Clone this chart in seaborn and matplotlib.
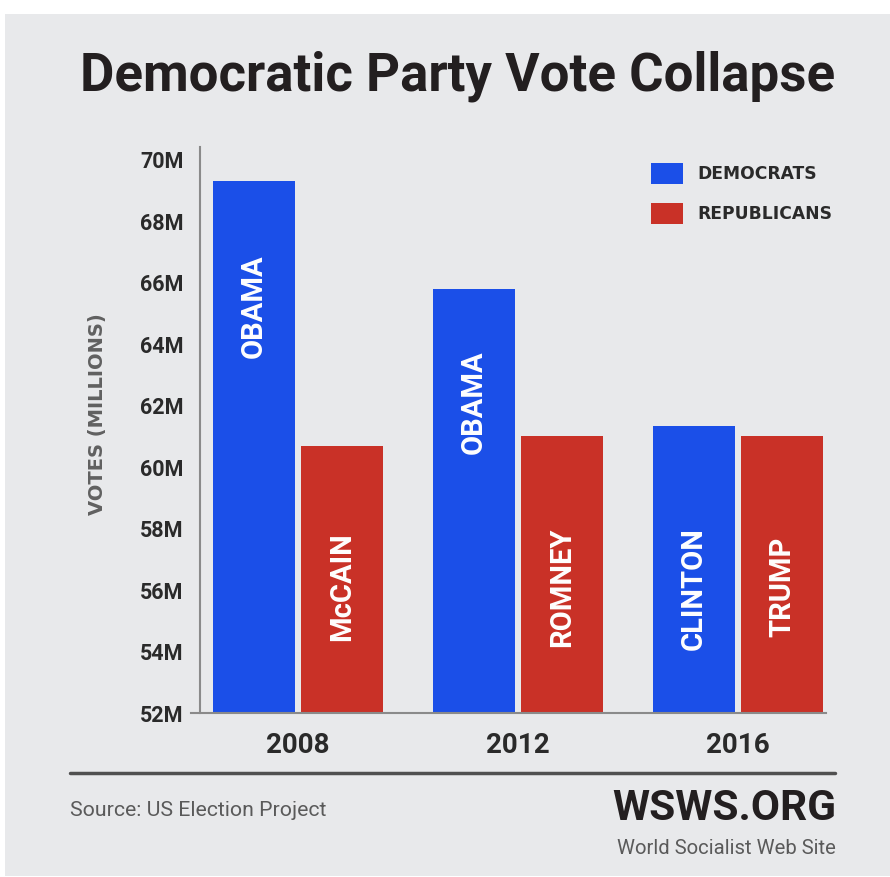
import matplotlib
matplotlib.use("Agg")
import matplotlib.pyplot as plt
from matplotlib import font_manager
from matplotlib.patches import Rectangle
from matplotlib.lines import Line2D
import seaborn as sns
import pandas as pd

# ---- data ----
years = ["2008", "2012", "2016"]
parties = ["DEMOCRATS", "REPUBLICANS"]
dem_votes = [69.3, 65.8, 61.35]
rep_votes = [60.7, 61.0, 61.0]
dem_names = ["OBAMA", "OBAMA", "CLINTON"]
rep_names = ["McCAIN", "ROMNEY", "TRUMP"]
ytick_vals = [52, 54, 56, 58, 60, 62, 64, 66, 68, 70]
ytick_labels = [f"{v}M" for v in ytick_vals]

df = pd.DataFrame({
    "year": years * 2,
    "party": [parties[0]] * 3 + [parties[1]] * 3,
    "votes": dem_votes + rep_votes,
    "name": dem_names + rep_names,
})

BLUE = "#1b4fe8"
RED = "#c93127"
BG = "#e8e9eb"
DARK = "#2a2a2a"
GREY = "#5a5a5a"

sns.set_theme(style="white")
plt.rcParams["font.family"] = ["Roboto", "DejaVu Sans"]

W, H = 890, 877
fig = plt.figure(figsize=(W / 100, H / 100), dpi=100, facecolor="white")


def px(x, y):
    return x / W, 1 - y / H


# background panel
fig.patches.append(Rectangle(px(5, 876), 885 / W, (876 - 14) / H,
                             transform=fig.transFigure, facecolor=BG,
                             edgecolor="none", zorder=-10))

ax_l, ax_r, ax_t, ax_b = 200, 830, 147, 713
ax = fig.add_axes([ax_l / W, 1 - ax_b / H, (ax_r - ax_l) / W, (ax_b - ax_t) / H])
ax.set_facecolor("none")

sns.barplot(data=df, x="year", y="votes", hue="party", order=years,
            hue_order=parties, palette=[BLUE, RED], width=0.8, gap=0.07,
            errorbar=None, legend=False, linewidth=0, saturation=1, ax=ax)

ax.set_xlim(-0.445, 2.418)
ax.set_ylim(52, 70.42)
ax.set_yticks(ytick_vals)
ax.set_yticklabels(ytick_labels)
ax.set_xlabel("")
ax.set_ylabel("")

for s in ["top", "right"]:
    ax.spines[s].set_visible(False)
for s in ["left", "bottom"]:
    ax.spines[s].set_color("#8a8a8a")
    ax.spines[s].set_linewidth(1.5)
ax.spines["bottom"].set_bounds(-0.445 - 9 / 220, 2.418 - 4 / 220)

ax.tick_params(axis="y", length=0, pad=12, labelsize=15.5, labelcolor=DARK)
ax.tick_params(axis="x", length=0, pad=14, labelsize=20, labelcolor=DARK)
for t in ax.get_yticklabels():
    t.set_fontweight("bold")
for t in ax.get_xticklabels():
    t.set_fontweight("bold")

# bar name labels
label_pos = {("DEMOCRATS", "2008"): 65.25, ("DEMOCRATS", "2012"): 62.1,
             ("DEMOCRATS", "2016"): 56.05}
for i, row in df.iterrows():
    xi = years.index(row["year"]) + (-0.2 if row["party"] == parties[0] else 0.2)
    yc = label_pos.get((row["party"], row["year"]), 56.1)
    ax.text(xi, yc, row["name"], rotation=90, ha="center", va="center",
            color="white", fontsize=21, fontweight="bold")

# y label
fig.text(*px(97, 414), "VOTES (MILLIONS)", rotation=90, ha="center",
         va="center", color="#606060", fontsize=14, fontweight="bold",
         family="DejaVu Sans")

# legend
for (yy, col, lab) in [(163, BLUE, parties[0]), (203, RED, parties[1])]:
    fig.patches.append(Rectangle(px(651, yy + 21), 32 / W, 21 / H,
                                 transform=fig.transFigure, facecolor=col,
                                 edgecolor="none"))
    fig.text(*px(697, yy + 11), lab, ha="left", va="center", color=DARK,
             fontsize=12.3, fontweight="bold", family="DejaVu Sans")

# title
fig.text(*px(458, 76), "Democratic Party Vote Collapse", ha="center",
         va="center", fontsize=38, fontweight="bold", color="#231f20")

# footer
fig.add_artist(Line2D([70 / W, 835 / W], [1 - 773 / H, 1 - 773 / H],
                      transform=fig.transFigure, color="#505050", lw=2.5))
fig.text(*px(70, 811), "Source: US Election Project", ha="left", va="center",
         fontsize=15.3, color=GREY)
fig.text(*px(836, 808), "WSWS.ORG", ha="right", va="center", fontsize=30.5,
         fontweight="bold", color="#231f20")
fig.text(*px(836, 848), "World Socialist Web Site", ha="right", va="center",
         fontsize=14.6, color=GREY)

fig.savefig("out.png", dpi=100, facecolor="white")
